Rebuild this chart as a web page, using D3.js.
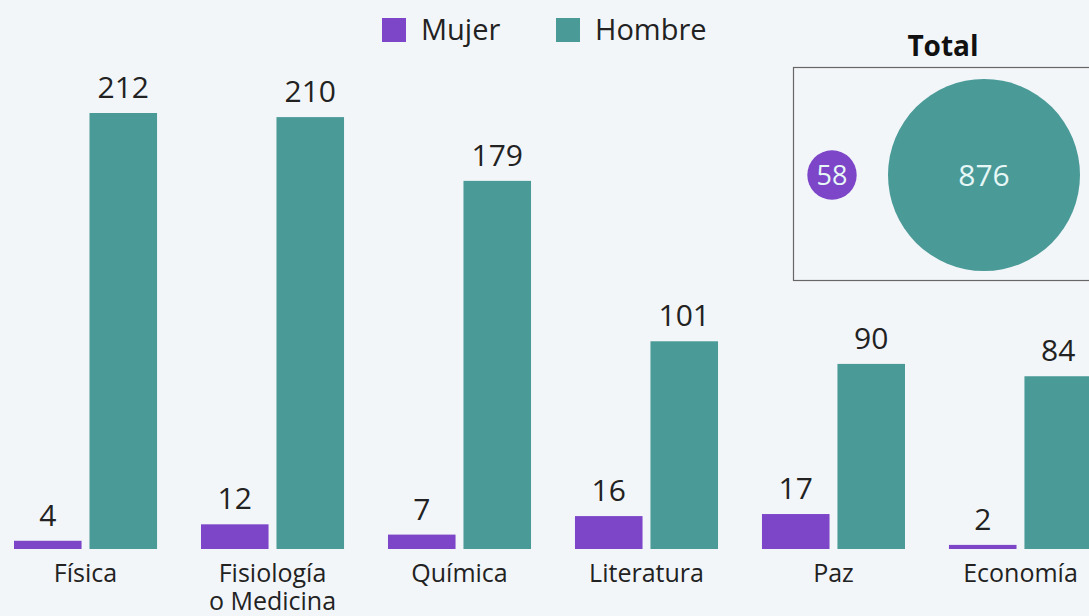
<!DOCTYPE html>
<html>
<head>
<meta charset="utf-8">
<script src="https://cdn.jsdelivr.net/npm/d3@7"></script>
<style>
  body { margin: 0; background: #f3f6f9; overflow: hidden; }
  svg { display: block; font-family: "Open Sans", sans-serif; }
</style>
</head>
<body>
<div id="chart"></div>
<script>
// Nobel prizes by gender
const categories = ["Física", "Fisiología\no Medicina", "Química", "Literatura", "Paz", "Economía"];
const series = ["Mujer", "Hombre"];
const mujer = [4, 12, 7, 16, 17, 2];
const hombre = [212, 210, 179, 101, 90, 84];
const totals = [58, 876];

const colors = { Mujer: "#7d46c8", Hombre: "#4a9a98" };

const width = 1089, height = 616;

const svg = d3.select("#chart")
    .append("svg")
    .attr("width", width)
    .attr("height", height);

svg.append("rect")
    .attr("width", width)
    .attr("height", height)
    .attr("fill", "#f3f6f9");

// scales
const x0 = d3.scaleBand()
    .domain(categories)
    .range([14, 1092])
    .paddingInner(0.235)
    .paddingOuter(0);

const x1 = d3.scaleBand()
    .domain(series)
    .range([0, x0.bandwidth()])
    .paddingInner(0.105);

const y = d3.scaleLinear()
    .domain([0, 212])
    .range([549, 113]);

const rows = categories.map((c, i) => ({ cat: c, values: [
    { key: "Mujer", value: mujer[i] },
    { key: "Hombre", value: hombre[i] }
] }));

// inset box with totals
const box = svg.append("g");
box.append("rect")
    .attr("x", 793.5)
    .attr("y", 67.5)
    .attr("width", 300)
    .attr("height", 213)
    .attr("fill", "none")
    .attr("stroke", "#666")
    .attr("stroke-width", 1.2);

box.append("text")
    .attr("x", 943)
    .attr("y", 56)
    .attr("text-anchor", "middle")
    .style("font-size", "28px")
    .style("font-weight", "bold")
    .attr("fill", "#111")
    .text("Total");

const r = d3.scaleSqrt().domain([0, 876]).range([0, 96]);
const cx = [832, 984];
box.selectAll("circle.total")
    .data(totals)
    .enter()
    .append("circle")
    .attr("class", "total")
    .attr("cx", (d, i) => cx[i])
    .attr("cy", 175)
    .attr("r", d => r(d))
    .attr("fill", (d, i) => colors[series[i]]);

box.selectAll("text.total")
    .data(totals)
    .enter()
    .append("text")
    .attr("class", "total")
    .attr("x", (d, i) => cx[i])
    .attr("y", 175)
    .attr("dy", "0.36em")
    .attr("text-anchor", "middle")
    .style("font-size", (d, i) => i === 0 ? "27px" : "30px")
    .attr("fill", "#e6f7f6")
    .text(d => d);

// bars
const groups = svg.selectAll(".group")
    .data(rows)
    .enter()
    .append("g")
    .attr("class", "group")
    .attr("transform", d => `translate(${x0(d.cat)},0)`);

groups.selectAll("rect")
    .data(d => d.values)
    .enter()
    .append("rect")
    .attr("x", d => x1(d.key))
    .attr("y", d => y(d.value))
    .attr("width", x1.bandwidth())
    .attr("height", d => y(0) - y(d.value))
    .attr("fill", d => colors[d.key]);

groups.selectAll("text.val")
    .data(d => d.values)
    .enter()
    .append("text")
    .attr("class", "val")
    .attr("x", d => x1(d.key) + x1.bandwidth() / 2)
    .attr("y", d => y(d.value) - 15)
    .attr("text-anchor", "middle")
    .style("font-size", "30px")
    .attr("fill", "#222")
    .text(d => d.value);

// category axis labels
const xAxis = svg.append("g")
    .attr("transform", `translate(0, ${y(0)})`)
    .call(d3.axisBottom(x0).tickSize(0).tickFormat(""))
    .attr("font-family", "'Open Sans', sans-serif");
xAxis.select(".domain").remove();

xAxis.selectAll(".tick text").remove();
xAxis.selectAll(".tick")
    .append("text")
    .attr("text-anchor", "middle")
    .attr("fill", "#222")
    .style("font-size", "25px")
    .selectAll("tspan")
    .data(d => d.split("\n"))
    .enter()
    .append("tspan")
    .attr("x", 0)
    .attr("y", (d, i) => 33 + i * 28)
    .text(d => d);

// legend
const legendX = [382, 556];
const legend = svg.selectAll(".legend")
    .data(series)
    .enter()
    .append("g")
    .attr("class", "legend")
    .attr("transform", (d, i) => `translate(${legendX[i]}, 18)`);

legend.append("rect")
    .attr("width", 24)
    .attr("height", 24)
    .attr("fill", d => colors[d]);

legend.append("text")
    .attr("x", 39)
    .attr("y", 12)
    .attr("dy", "0.36em")
    .style("font-size", "29px")
    .attr("fill", "#222")
    .text(d => d);
</script>
</body>
</html>
